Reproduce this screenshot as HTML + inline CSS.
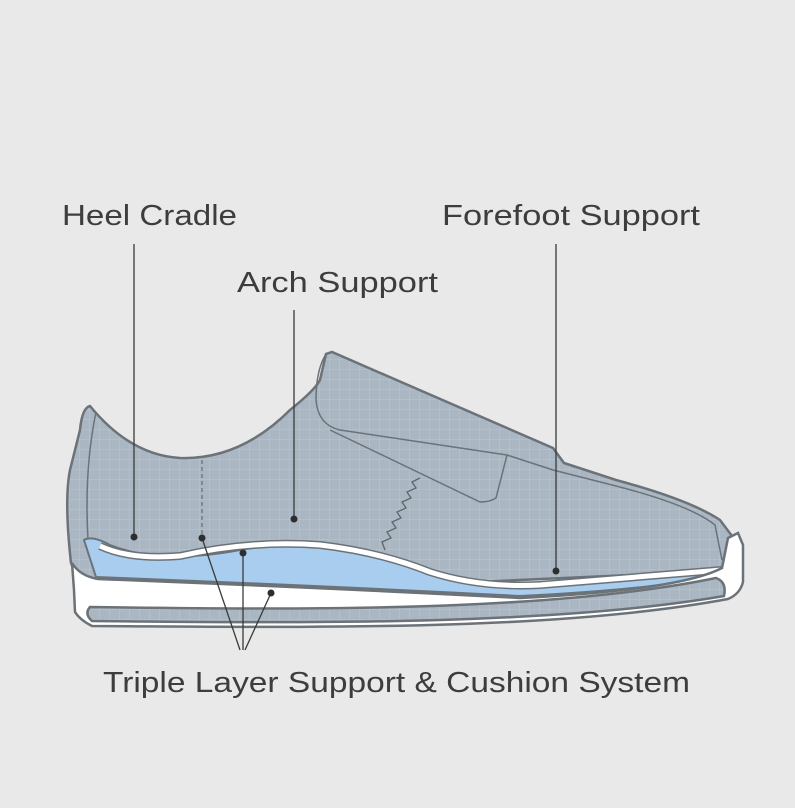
<!DOCTYPE html>
<html><head><style>
body{margin:0;background:#e9e9e9;}
svg{display:block}
text{font-family:"Liberation Sans",sans-serif;fill:#3d3d3d;font-size:29px;}
</style></head><body>
<svg width="795" height="808" viewBox="0 0 795 808">
<defs>
<pattern id="g" width="10" height="10" patternUnits="userSpaceOnUse">
<rect width="10" height="10" fill="#aab7c3"/>
<path d="M10 0V10M0 10H10" stroke="#bac5cf" stroke-width="1"/>
</pattern>
</defs>
<rect width="795" height="808" fill="#e9e9e9"/>
<!-- upper -->
<path d="M71 563 Q64 500 70 470 L80 430 Q82 408 90 406 Q130 455 180 458 Q240 460 290 410 Q315 390 320 380 L326 354 L332 352 L553 448 L564 463 L616 480 Q690 500 720 520 L735 540 L740 570 L300 590 L80 585Z" fill="url(#g)" stroke="#6b7278" stroke-width="2.5"/>
<!-- inner heel line -->
<path d="M96 412 Q84 470 88 540" fill="none" stroke="#6b7278" stroke-width="1.5"/>
<!-- tongue & strap -->
<path d="M326 354 Q316 370 316 400 Q318 425 340 430 L507 455 L496 498 Q490 502 480 502 L330 430" fill="none" stroke="#6b7278" stroke-width="1.5"/>
<path d="M507 455 L553 470 L616 486 Q690 505 715 525 L722 560" fill="none" stroke="#6b7278" stroke-width="1.5"/>
<!-- zigzag -->
<polyline points="420,478 412,482 416,488 407,492 411,498 402,502 406,508 397,512 401,518 392,522 396,528 387,532 391,538 382,542 385,550" fill="none" stroke="#5e656b" stroke-width="1.3"/>
<!-- dashed -->
<line x1="202" y1="460" x2="202" y2="537" stroke="#6b7278" stroke-width="1.3" stroke-dasharray="4,3"/>
<!-- blue layer -->
<path d="M84 540 Q92 535 110 545 Q160 565 240 550 Q330 535 400 560 Q460 585 520 588 L722 572 Q680 588 520 596 Q330 586 96 577 Z" fill="#a9cdee" stroke="#6b7278" stroke-width="2"/>
<!-- white insole line -->
<path d="M100 546 Q130 560 180 556 Q250 540 320 545 Q380 552 430 572 Q480 588 540 585 L722 570" fill="none" stroke="#6b7278" stroke-width="8"/>
<path d="M100 546 Q130 560 180 556 Q250 540 320 545 Q380 552 430 572 Q480 588 540 585 L722 570" fill="none" stroke="#ffffff" stroke-width="5"/>
<!-- white sole -->
<path d="M72 563 Q80 576 98 579 Q330 588 520 598 Q680 590 722 568 L728 538 L738 533 L743 545 L743 582 Q740 594 728 599 C 550 632, 300 627, 92 626 Q80 620 75 612 L74 590 Z" fill="#ffffff" stroke="#6b7278" stroke-width="2.5"/>
<!-- bottom gray strip -->
<path d="M90 607 C 300 610, 550 612, 716 578 Q727 582 724 596 C 550 626, 300 623, 92 621 Q84 614 90 607Z" fill="url(#g)" stroke="#6b7278" stroke-width="2.5"/>
<!-- leader lines -->
<g stroke="#3a3a3a" stroke-width="1.3">
<line x1="134" y1="244" x2="134" y2="536"/>
<line x1="294" y1="310" x2="294" y2="519"/>
<line x1="556" y1="244" x2="556" y2="571"/>
<line x1="202" y1="538" x2="240" y2="650"/>
<line x1="243" y1="552" x2="243" y2="650"/>
<line x1="271" y1="593" x2="245" y2="650"/>
</g>
<g fill="#2e2e2e">
<circle cx="134" cy="537" r="3.5"/><circle cx="294" cy="519" r="3.5"/><circle cx="556" cy="571" r="3.5"/>
<circle cx="202" cy="538" r="3.5"/><circle cx="243" cy="553" r="3.5"/><circle cx="271" cy="593" r="3.5"/>
</g>
<text x="62" y="225" textLength="175" lengthAdjust="spacingAndGlyphs">Heel Cradle</text>
<text x="237" y="292" textLength="201" lengthAdjust="spacingAndGlyphs">Arch Support</text>
<text x="442" y="225" textLength="258" lengthAdjust="spacingAndGlyphs">Forefoot Support</text>
<text x="103" y="692" textLength="587" lengthAdjust="spacingAndGlyphs">Triple Layer Support &amp; Cushion System</text>
</svg>
</body></html>
